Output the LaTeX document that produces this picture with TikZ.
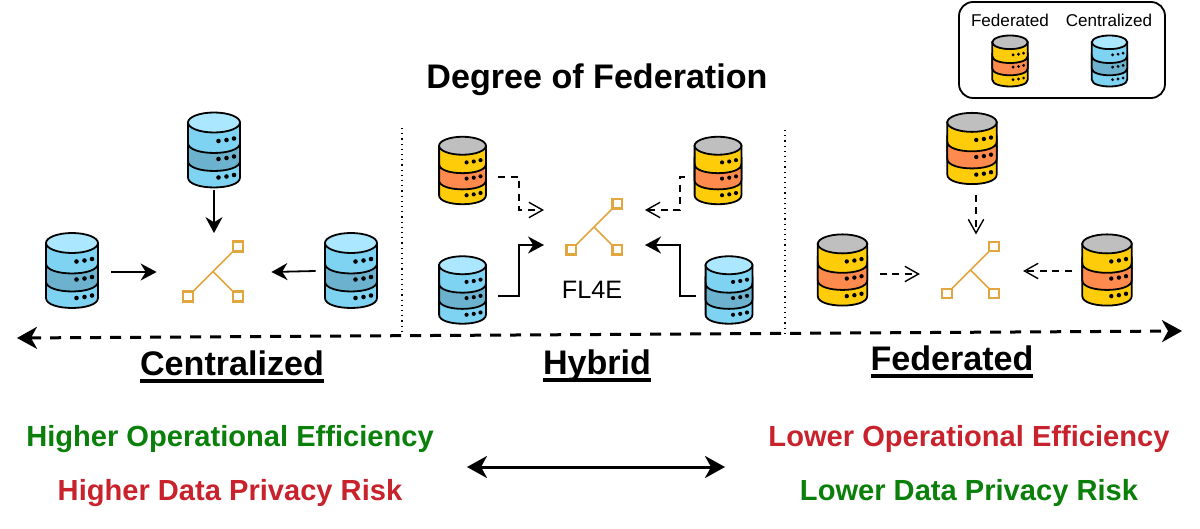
\documentclass[tikz,border=0pt]{standalone}
\usepackage{fontspec}
\setmainfont{Liberation Sans}
\usetikzlibrary{arrows.meta}
\definecolor{fedtop}{HTML}{BFBFBF}
\definecolor{fedside}{HTML}{FFCC0A}
\definecolor{fedmid}{HTML}{FF8A4D}
\definecolor{centop}{HTML}{ABE8FF}
\definecolor{censide}{HTML}{7FD3F2}
\definecolor{cenmid}{HTML}{6CB2CE}
\definecolor{hubline}{HTML}{E3A63E}
\definecolor{goodtext}{HTML}{0A7F0A}
\definecolor{badtext}{HTML}{C8232C}
\newcommand{\ulabel}[1]{\setbox0\hbox{#1}\rlap{\rule[-3.4pt]{\wd0}{1.8pt}}\box0}
\tikzset{
    line/.style={
        line width=0.9pt
    },
    arrow/.style={
        line,
        ->,
        > = {
            Stealth[length=8pt, width=8.5pt, inset=2.6pt]
        }
    },
    softarrow/.style={
        line width=0.7pt,
        dash pattern=on 3.5pt off 2.8pt,
        ->,
        > = {
            Straight Barb[length=2.4mm, width=2.7mm]
        }
    },
    bigarrow/.style={
        line width=1.5pt,
        <->,
        > = {
            Stealth[length=10pt, width=11pt, inset=3pt]
        }
    },
    dbbox/.style={
        minimum width=26pt,
        minimum height=37.5pt,
        inner sep=0pt
    },
    smallbox/.style={
        minimum width=23pt,
        minimum height=33.5pt,
        inner sep=0pt
    },
    hubbox/.style={
        minimum width=30pt,
        minimum height=30pt,
        inner sep=0pt
    },
    title/.style={
        font=\bfseries\fontsize{17.05}{20}\selectfont
    },
    heading/.style={
        font=\bfseries\fontsize{17.05}{20}\selectfont
    },
    note/.style={
        font=\bfseries\fontsize{14.55}{17}\selectfont
    },
    legendtext/.style={
        font=\fontsize{8.55}{10}\selectfont
    },
    pics/dbstack/.style n args={3}{
        code={
            \draw [line, fill=#2] (-26, -27.5) -- (-26, 27.5)
                .. controls (-26, 40.8) and (26, 40.8) .. (26, 27.5) -- (26, -27.5) -- cycle;
            \draw [line, fill=#3] (-26, -7) .. controls (-26, 6.3) and (26, 6.3) .. (26, -7)
                -- (26, 11) .. controls (26, 24.3) and (-26, 24.3) .. (-26, 11) -- cycle;
            \draw [line, fill=#1] (0, -27.5) ellipse [x radius=26, y radius=10];
            \foreach \row in {-9, 9, 27.5} {
                \fill (4.5, \row) circle [radius=2.3];
                \fill (12.5, \row - 1) circle [radius=2.3];
                \fill (20, \row - 2.5) circle [radius=2.3];
            }
        }
    },
    pics/feddb/.style={
        dbstack={fedtop}{fedside}{fedmid}
    },
    pics/cendb/.style={
        dbstack={centop}{censide}{cenmid}
    },
    pics/hubmark/.style={
        code={
            \draw [hubline, line width=0.8pt] (-25, 25) -- (0, 0) -- (25, 25) (0, 0) -- (25, -25);
            \draw [hubline, line width=1.1pt, fill=white] (-30, 20) rectangle (-20, 30);
            \draw [hubline, line width=1.1pt, fill=white] (20, 20) rectangle (30, 30);
            \draw [hubline, line width=1.1pt, fill=white] (20, -30) rectangle (30, -20);
        }
    }
}
\begin{document}
\begin{tikzpicture}[x=0.5pt, y=-0.5pt]
    \useasboundingbox (0, 0) rectangle (1200, 529);
    % Legend:
    \node (legendbox) [draw, line width=0.9pt, rounded corners=7pt, minimum width=103pt, minimum height=48pt] at (1062, 50) {};
    \node (legendfed) [legendtext] at (1010, 20) {Federated};
    \node (legendcen) [legendtext] at (1109, 20) {Centralized};
    \pic [scale=0.68] at (1010, 61) {feddb};
    \pic [scale=0.68] at (1109.5, 61) {cendb};
    % Title:
    \node (degree) [title] at (597, 80) {Degree of Federation};
    % Dividers:
    \coordinate (divAtop) at (402, 128);
    \coordinate (divAbot) at (402, 333);
    \coordinate (divBtop) at (785, 130);
    \coordinate (divBbot) at (785, 333);
    \draw [line width=0.6pt, dotted] (divAtop) -- (divAbot);
    \draw [line width=0.6pt, dotted] (divBtop) -- (divBbot);
    % Centralized:
    \begin{scope}
        \node (hubC) [hubbox] at (213, 271.5) {};
        \pic at (hubC) {hubmark};
        \node (cenT) [dbbox] at (214, 150) {};
        \node (cenL) [dbbox] at (72, 270.5) {};
        \node (cenR) [dbbox] at (351, 270.5) {};
        \pic at (cenT) {cendb};
        \pic at (cenL) {cendb};
        \pic at (cenR) {cendb};
        \draw [arrow] ([yshift=-1pt]cenT.south) -- ([shift={(1, -8)}]hubC.north);
        \draw [arrow] ([shift={(13, 1.5)}]cenL.east) -- ([shift={(-26, 0.5)}]hubC.west);
        \draw [arrow] ([shift={(-9, 0.5)}]cenR.west) -- ([shift={(28, 0.5)}]hubC.east);
    \end{scope}
    % Hybrid:
    \begin{scope}
        \node (hubH) [hubbox, scale=0.92] at (594, 227) {};
        \pic [scale=0.92] at (hubH) {hubmark};
        \node (fl4e) [font=\fontsize{12.6}{15}\selectfont] at (592, 290) {FL4E};
        \node (hybNW) [smallbox] at (462.5, 170.5) {};
        \node (hybNE) [smallbox] at (718, 170.5) {};
        \node (hybSW) [smallbox] at (462.5, 290) {};
        \node (hybSE) [smallbox] at (729, 290) {};
        \pic [scale=0.9] at (hybNW) {feddb};
        \pic [scale=0.9] at (hybNE) {feddb};
        \pic [scale=0.9] at (hybSW) {cendb};
        \pic [scale=0.9] at (hybSE) {cendb};
        \coordinate (outNW) at (498, 177);
        \coordinate (outNE) at (685, 177);
        \coordinate (outSW) at (498, 296);
        \coordinate (outSE) at (696, 296);
        \coordinate (inNW) at (544, 210);
        \coordinate (inNE) at (645, 210);
        \coordinate (inSW) at (544, 245);
        \coordinate (inSE) at (645, 245);
        \draw [softarrow] (outNW) -- (519, 177) -- (519, 210) -- (inNW);
        \draw [softarrow] (outNE) -- (680, 177) -- (680, 210) -- (inNE);
        \draw [arrow] (outSW) -- (519, 296) -- (519, 245) -- (inSW);
        \draw [arrow] (outSE) -- (680, 296) -- (680, 245) -- (inSE);
    \end{scope}
    % Federated:
    \begin{scope}
        \node (hubF) [hubbox, scale=0.94] at (970.5, 270) {};
        \pic [scale=0.94] at (hubF) {hubmark};
        \node (fedT) [dbbox, scale=0.95] at (972, 148.5) {};
        \node (fedL) [dbbox, scale=0.95] at (842.5, 270) {};
        \node (fedR) [dbbox, scale=0.95] at (1107, 270) {};
        \pic [scale=0.95] at (fedT) {feddb};
        \pic [scale=0.95] at (fedL) {feddb};
        \pic [scale=0.95] at (fedR) {feddb};
        \draw [softarrow] ([shift={(4, 10)}]fedT.south) -- ([shift={(5.5, -7)}]hubF.north);
        \draw [softarrow] ([shift={(12, 4)}]fedL.east) -- ([shift={(-22, 4)}]hubF.west);
        \draw [softarrow] ([shift={(-10, 1)}]fedR.west) -- ([shift={(24, 1)}]hubF.east);
    \end{scope}
    % Axis:
    \coordinate (axisL) at (17, 338);
    \coordinate (axisR) at (1182, 331);
    \draw [bigarrow, dash pattern=on 5.6pt off 4.4pt] (axisL) -- (axisR);
    \node (headC) [heading] at (232, 367) {\ulabel{Centralized}};
    \node (headH) [heading] at (597, 366) {\ulabel{Hybrid}};
    \node (headF) [heading] at (952, 362) {\ulabel{Federated}};
    % Trade-off:
    \node (effC) [note, text=goodtext] at (230, 439) {Higher Operational Efficiency};
    \node (riskC) [note, text=badtext] at (230, 493) {Higher Data Privacy Risk};
    \node (effF) [note, text=badtext] at (969, 439) {Lower Operational Efficiency};
    \node (riskF) [note, text=goodtext] at (969, 493) {Lower Data Privacy Risk};
    \coordinate (swapL) at (467, 467);
    \coordinate (swapR) at (725, 467);
    \draw [bigarrow] (swapL) -- (swapR);
\end{tikzpicture}
\end{document}
